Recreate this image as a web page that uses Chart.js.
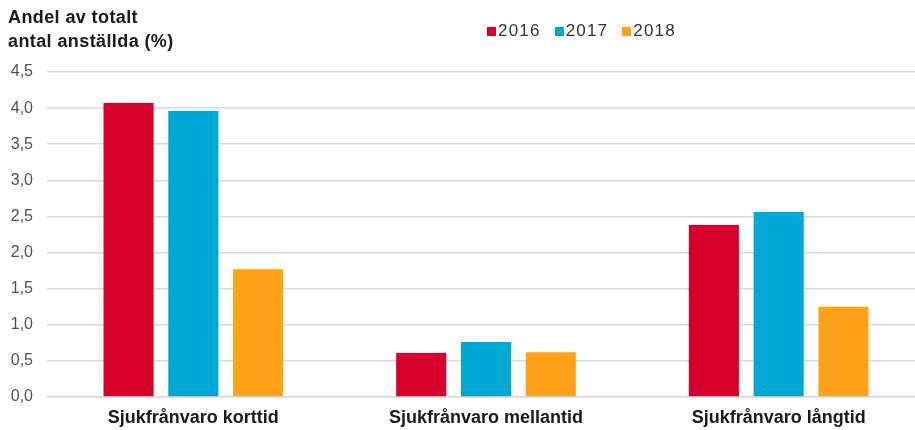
<!DOCTYPE html>
<html lang="sv">
<head>
<meta charset="UTF-8">
<title>Sjukfrånvaro</title>
<script src="https://cdn.jsdelivr.net/npm/chart.js"></script>
<style>
    body { margin: 0; width: 915px; height: 430px; overflow: hidden; background: #fff; font-family: "Liberation Sans", Arial, sans-serif; }
    .wrap { position: relative; width: 925px; height: 430px; }
    .title { position: absolute; left: 8px; top: 5px; font-size: 18px; font-weight: bold; color: #1a1a1a; line-height: 24px; letter-spacing: 0.4px; }
    .legend { position: absolute; left: 487px; top: 21px; display: flex; font-size: 17px; color: #333; letter-spacing: 1.2px; }
    .legend span.item { display: flex; align-items: center; margin-right: 14px; }
    .legend i { display: inline-block; width: 9px; height: 9px; margin-right: 2px; }
</style>
</head>
<body>
<div class="wrap">
    <canvas id="chart" width="925" height="430"></canvas>
    <div class="title">Andel av totalt<br>antal anställda (%)</div>
    <div class="legend" id="legend"></div>
</div>
<script>
const categories = ['Sjukfrånvaro korttid', 'Sjukfrånvaro mellantid', 'Sjukfrånvaro långtid'];
const years = ['2016', '2017', '2018'];
const values2016 = [4.07, 0.61, 2.38];
const values2017 = [3.96, 0.76, 2.56];
const values2018 = [1.77, 0.62, 1.25];
const colors = ['#d7002a', '#00a9d5', '#ffa21a'];

const series = [values2016, values2017, values2018];

// HTML-legend ovanför diagrammet
document.getElementById('legend').innerHTML = years.map((y, i) =>
    `<span class="item"><i style="background:${colors[i]}"></i>${y}</span>`).join('');

new Chart(document.getElementById('chart'), {
    type: 'bar',
    data: {
        labels: categories,
        datasets: years.map((y, i) => ({
            label: y,
            data: series[i],
            backgroundColor: colors[i],
            barPercentage: 0.773,
            categoryPercentage: 0.664
        }))
    },
    options: {
        responsive: false,
        animation: false,
        layout: { padding: { top: 72, left: 0, right: 0, bottom: 0 } },
        plugins: { legend: { display: false }, title: { display: false }, tooltip: { enabled: false } },
        scales: {
            y: {
                min: 0,
                max: 4.5,
                ticks: {
                    stepSize: 0.5,
                    padding: 14,
                    color: '#505050',
                    font: { family: '"Liberation Sans", Arial, sans-serif', size: 16 },
                    callback: v => v.toFixed(1).replace('.', ',')
                },
                grid: { color: '#d9d9d9', lineWidth: 1.5, drawTicks: false },
                border: { display: false },
                afterFit: s => { s.width = 47; }
            },
            x: {
                ticks: {
                    padding: 10,
                    color: '#1a1a1a',
                    font: { family: '"Liberation Sans", Arial, sans-serif', size: 18, weight: 'bold' }
                },
                grid: { display: false, drawTicks: false },
                border: { color: '#d9d9d9', width: 1.5 },
                afterFit: s => { s.height = 33; }
            }
        }
    }
});
</script>
</body>
</html>
